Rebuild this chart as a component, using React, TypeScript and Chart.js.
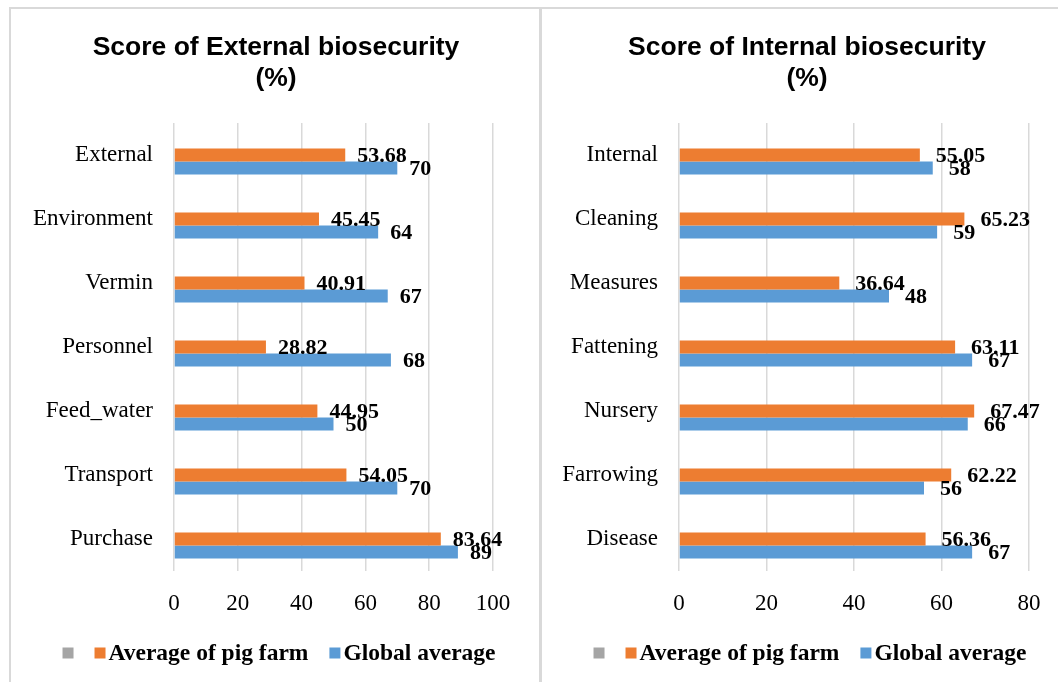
import React, { useEffect, useRef } from "react";
import { Chart, registerables } from "chart.js";

Chart.register(...registerables);

// ---- data ----
const externalCategories = ["External", "Environment", "Vermin", "Personnel", "Feed_water", "Transport", "Purchase"];
const externalFarm = [53.68, 45.45, 40.91, 28.82, 44.95, 54.05, 83.64];
const externalGlobal = [70, 64, 67, 68, 50, 70, 89];

const internalCategories = ["Internal", "Cleaning", "Measures", "Fattening", "Nursery", "Farrowing", "Disease"];
const internalFarm = [55.05, 65.23, 36.64, 63.11, 67.47, 62.22, 56.36];
const internalGlobal = [58, 59, 48, 67, 66, 56, 67];

// the third (grey) series of the original has no values
const emptySeries = [null, null, null, null, null, null, null];

const externalTitle = ["Score of External biosecurity", "(%)"];
const internalTitle = ["Score of Internal biosecurity", "(%)"];
const seriesNames = ["Average of pig farm", "Global average"];
const legendBlankName = "";
const externalMax = 100;
const internalMax = 80;
const tickStep = 20;

const ORANGE = "#ED7D31";
const BLUE = "#5B9BD5";
const GREY = "#A5A5A5";
const GRID = "#D9D9D9";
const SERIF = "'Liberation Serif', 'Times New Roman', serif";
const SANS = "'Liberation Sans', Arial, sans-serif";

const CANVAS_W = 530;
const CANVAS_H = 673;

const valueLabels = {
  id: "valueLabels",
  afterDatasetsDraw(chart: any, _args: any, opts: any) {
    const ctx = chart.ctx;
    ctx.save();
    ctx.font = `bold 22px ${SERIF}`;
    ctx.fillStyle = "#000";
    ctx.textAlign = "left";
    ctx.textBaseline = "middle";
    chart.data.datasets.forEach((ds: any, i: number) => {
      const meta = chart.getDatasetMeta(i);
      meta.data.forEach((bar: any, j: number) => {
        const v = ds.data[j];
        if (v == null) return;
        ctx.fillText(String(v), bar.x + (opts.offset || 12), bar.y + 1);
      });
    });
    ctx.restore();
  },
};

const panelTitle = {
  id: "panelTitle",
  afterDraw(chart: any, _args: any, opts: any) {
    const ctx = chart.ctx;
    const lines: string[] = opts.lines || [];
    ctx.save();
    ctx.font = `bold 26.5px ${SANS}`;
    ctx.fillStyle = "#000";
    ctx.textAlign = "center";
    ctx.textBaseline = "middle";
    lines.forEach((t, i) => {
      ctx.fillText(t, chart.width / 2, opts.y + i * opts.lineGap);
    });
    ctx.restore();
  },
};

const customLegend = {
  id: "customLegend",
  afterDraw(chart: any, _args: any, opts: any) {
    const ctx = chart.ctx;
    const items: { color: string; text: string }[] = opts.items || [];
    ctx.save();
    ctx.font = `bold 23.5px ${SERIF}`;
    ctx.textBaseline = "middle";
    ctx.textAlign = "left";
    const box = 11;
    const textGap = 3;
    const itemGap = 21;
    const widths = items.map((it) => box + (it.text ? textGap + ctx.measureText(it.text).width : 0));
    const total = widths.reduce((a, b) => a + b, 0) + itemGap * (items.length - 1);
    let x = chart.width / 2 + (opts.shift || 0) - total / 2;
    const y = opts.y;
    items.forEach((it, i) => {
      ctx.fillStyle = it.color;
      ctx.fillRect(x, y - 5.5, box, box);
      if (it.text) {
        ctx.fillStyle = "#000";
        ctx.fillText(it.text, x + box + textGap, y + 1);
      }
      x += widths[i] + itemGap;
    });
    ctx.restore();
  },
};

type PanelProps = {
  title: string[];
  categories: string[];
  farm: number[];
  global: number[];
  max: number;
  yWidth: number;
  padRight: number;
  labelOffset: number;
  left: number;
};

function Panel(p: PanelProps) {
  const ref = useRef<HTMLCanvasElement | null>(null);
  useEffect(() => {
    if (!ref.current) return;
    const chart = new Chart(ref.current, {
      type: "bar",
      data: {
        labels: p.categories,
        datasets: [
          { label: legendBlankName, data: emptySeries, backgroundColor: GREY, borderWidth: 0 },
          { label: seriesNames[0], data: p.farm, backgroundColor: ORANGE, borderWidth: 0 },
          { label: seriesNames[1], data: p.global, backgroundColor: BLUE, borderWidth: 0 },
        ],
      },
      options: {
        indexAxis: "y",
        responsive: false,
        animation: false,
        events: [],
        datasets: { bar: { categoryPercentage: 0.61, barPercentage: 1 } },
        layout: { padding: { top: 114, right: p.padRight, bottom: 71, left: 0 } },
        scales: {
          x: {
            min: 0,
            max: p.max,
            afterFit: (s: any) => {
              s.height = 40;
            },
            ticks: { stepSize: tickStep, padding: 19, color: "#000", font: { family: SERIF, size: 23 } },
            grid: { color: GRID, lineWidth: 1.5, drawTicks: false },
            border: { display: false },
          },
          y: {
            afterFit: (s: any) => {
              s.width = p.yWidth;
            },
            ticks: { padding: 21, color: "#000", font: { family: SERIF, size: 23 } },
            grid: { display: false, drawTicks: false },
            border: { display: false },
          },
        },
        plugins: {
          legend: { display: false },
          tooltip: { enabled: false },
          title: { display: false },
          panelTitle: { lines: p.title, y: 39, lineGap: 31 },
          valueLabels: { offset: p.labelOffset },
          customLegend: {
            y: 644,
            shift: 3,
            items: [
              { color: GREY, text: legendBlankName },
              { color: ORANGE, text: seriesNames[0] },
              { color: BLUE, text: seriesNames[1] },
            ],
          },
        } as any,
      },
      plugins: [valueLabels, panelTitle, customLegend],
    });
    return () => chart.destroy();
  }, []);
  return (
    <canvas
      ref={ref}
      width={CANVAS_W}
      height={CANVAS_H}
      style={{ position: "absolute", left: p.left, top: 9, width: CANVAS_W, height: CANVAS_H }}
    />
  );
}

export default function App() {
  const line = { position: "absolute" as const, background: "#D9D9D9" };
  return (
    <div
      style={{
        position: "absolute",
        left: 0,
        top: 0,
        width: 1058,
        height: 682,
        overflow: "hidden",
        background: "#fff",
      }}
    >
      <div style={{ ...line, left: 9, top: 7, width: 1049, height: 2 }} />
      <div style={{ ...line, left: 9, top: 7, width: 2, height: 675 }} />
      <div style={{ ...line, left: 539, top: 7, width: 3, height: 675 }} />
      <Panel
        title={externalTitle}
        categories={externalCategories}
        farm={externalFarm}
        global={externalGlobal}
        max={externalMax}
        yWidth={163}
        padRight={48}
        labelOffset={12}
        left={11}
      />
      <Panel
        title={internalTitle}
        categories={internalCategories}
        farm={internalFarm}
        global={internalGlobal}
        max={internalMax}
        yWidth={137}
        padRight={43}
        labelOffset={16}
        left={542}
      />
    </div>
  );
}
